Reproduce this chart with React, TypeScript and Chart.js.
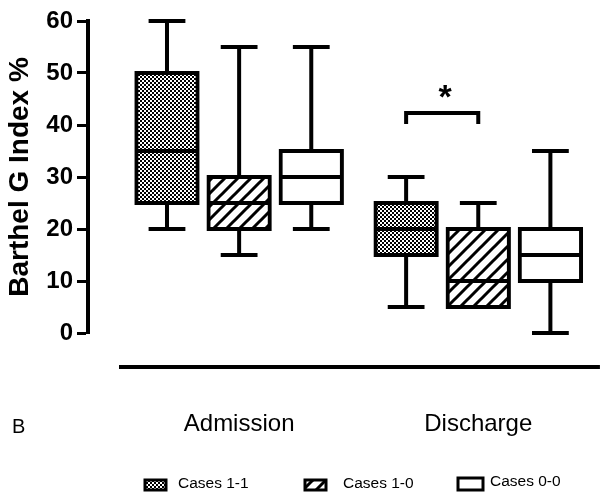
import React, { useEffect, useRef } from 'react';
import { Chart, registerables } from 'chart.js';

Chart.register(...registerables);

// ---- data ----
const categories = ['Admission', 'Discharge'];
const seriesNames = ['Cases 1-1', 'Cases 1-0', 'Cases 0-0'];
// per series, per category [Admission, Discharge]
const whiskerLow = [[20, 5], [15, 5], [20, 0]];
const quartile1 = [[25, 15], [20, 5], [25, 10]];
const medians = [[35, 20], [25, 10], [30, 15]];
const quartile3 = [[50, 25], [30, 20], [35, 20]];
const whiskerHigh = [[60, 30], [55, 25], [55, 35]];
const yTicks = [0, 10, 20, 30, 40, 50, 60];
const sigCategory = 1; // Discharge
const sigSeries = [0, 1];
const sigLevel = [42.3, 40.2];
const sigLabel = '*';
const panelLabel = 'B';
const yTitle = 'Barthel G Index %';

const FONT = '"Liberation Sans", Arial, Helvetica, sans-serif';

function makeDots(): CanvasPattern | string {
  const c = document.createElement('canvas');
  c.width = 4; c.height = 4;
  const g = c.getContext('2d')!;
  g.fillStyle = '#fff'; g.fillRect(0, 0, 4, 4);
  g.fillStyle = '#000';
  g.fillRect(0, 0, 2, 2); g.fillRect(2, 2, 2, 2);
  return g.createPattern(c, 'repeat') || '#888';
}

function makeHatch(): CanvasPattern | string {
  const s = 13;
  const c = document.createElement('canvas');
  c.width = s; c.height = s;
  const g = c.getContext('2d')!;
  g.fillStyle = '#fff'; g.fillRect(0, 0, s, s);
  g.strokeStyle = '#000'; g.lineWidth = 3;
  g.beginPath();
  g.moveTo(-2, s + 2); g.lineTo(s + 2, -2);
  g.moveTo(-2, 2); g.lineTo(2, -2);
  g.moveTo(s - 2, s + 2); g.lineTo(s + 2, s - 2);
  g.stroke();
  return g.createPattern(c, 'repeat') || '#888';
}

const decor = {
  id: 'boxDecor',
  afterDatasetsDraw(chart: any) {
    const ctx = chart.ctx as CanvasRenderingContext2D;
    const y = chart.scales.y;
    ctx.save();
    ctx.strokeStyle = '#000';
    ctx.lineWidth = 4;
    ctx.lineCap = 'butt';
    chart.data.datasets.forEach((_ds: any, i: number) => {
      const meta = chart.getDatasetMeta(i);
      meta.data.forEach((bar: any, j: number) => {
        const x = bar.x;
        const w = bar.width;
        const cap = w * 0.3;
        const pHi = y.getPixelForValue(whiskerHigh[i][j]);
        const pQ3 = y.getPixelForValue(quartile3[i][j]);
        const pQ1 = y.getPixelForValue(quartile1[i][j]);
        const pLo = y.getPixelForValue(whiskerLow[i][j]);
        const pMed = y.getPixelForValue(medians[i][j]);
        ctx.beginPath();
        if (whiskerHigh[i][j] > quartile3[i][j]) {
          ctx.moveTo(x, pQ3 - 2); ctx.lineTo(x, pHi);
          ctx.moveTo(x - cap, pHi); ctx.lineTo(x + cap, pHi);
        }
        if (whiskerLow[i][j] < quartile1[i][j]) {
          ctx.moveTo(x, pQ1 + 2); ctx.lineTo(x, pLo);
          ctx.moveTo(x - cap, pLo); ctx.lineTo(x + cap, pLo);
        }
        ctx.moveTo(x - w / 2, pMed); ctx.lineTo(x + w / 2, pMed);
        ctx.stroke();
      });
    });
    // significance bracket
    const a = chart.getDatasetMeta(sigSeries[0]).data[sigCategory];
    const b = chart.getDatasetMeta(sigSeries[1]).data[sigCategory];
    const yb = y.getPixelForValue(sigLevel[0]);
    const yt = y.getPixelForValue(sigLevel[1]);
    ctx.lineWidth = 4;
    ctx.beginPath();
    ctx.moveTo(a.x, yt); ctx.lineTo(a.x, yb); ctx.lineTo(b.x, yb); ctx.lineTo(b.x, yt);
    ctx.stroke();
    ctx.fillStyle = '#000';
    ctx.font = `bold 34px ${FONT}`;
    ctx.textAlign = 'center';
    ctx.textBaseline = 'alphabetic';
    ctx.fillText(sigLabel, (a.x + b.x) / 2 + 3, yb - 5);
    ctx.restore();
  },
  afterDraw(chart: any) {
    const ctx = chart.ctx as CanvasRenderingContext2D;
    const area = chart.chartArea;
    ctx.save();
    // baseline under the plot
    ctx.strokeStyle = '#000';
    ctx.lineWidth = 4;
    ctx.beginPath();
    ctx.moveTo(area.left + 31, area.bottom + 34);
    ctx.lineTo(area.right - 1, area.bottom + 34);
    ctx.stroke();
    // panel letter
    ctx.fillStyle = '#000';
    ctx.font = `20px ${FONT}`;
    ctx.textAlign = 'left';
    ctx.textBaseline = 'alphabetic';
    ctx.fillText(panelLabel, 12, 433);
    // legend
    const boxes = [
      { x: 145, y: 480, w: 21, h: 10, tx: 178 },
      { x: 305, y: 480, w: 21, h: 10, tx: 343 },
      { x: 458, y: 478, w: 25, h: 12, tx: 490 },
    ];
    ctx.font = `15.5px ${FONT}`;
    ctx.textBaseline = 'middle';
    chart.data.datasets.forEach((ds: any, i: number) => {
      const bx = boxes[i];
      ctx.fillStyle = ds.backgroundColor;
      ctx.fillRect(bx.x, bx.y, bx.w, bx.h);
      ctx.strokeStyle = '#000';
      ctx.lineWidth = 3;
      ctx.strokeRect(bx.x, bx.y, bx.w, bx.h);
      ctx.fillStyle = '#000';
      ctx.fillText(seriesNames[i], bx.tx, i === 2 ? 482 : 484);
    });
    ctx.restore();
  },
};

export default function App() {
  const ref = useRef<HTMLCanvasElement>(null);
  useEffect(() => {
    document.body.style.margin = '0';
    const fills = [makeDots(), makeHatch(), '#ffffff'];
    const datasets = seriesNames.map((name, i) => ({
      label: name,
      data: categories.map((_c, j) => ({ x: j + 1, y: [quartile1[i][j], quartile3[i][j]] })),
      backgroundColor: fills[i],
      borderColor: '#000',
      borderWidth: 4,
      borderSkipped: false,
      inflateAmount: 2,
      categoryPercentage: 0.905,
      barPercentage: 0.85,
    }));
    const chart = new Chart(ref.current!, {
      type: 'bar',
      data: { datasets } as any,
      options: {
        animation: false,
        responsive: true,
        maintainAspectRatio: false,
        layout: { padding: { top: 21, right: 3, bottom: 54, left: 0 } },
        plugins: { legend: { display: false }, tooltip: { enabled: false } },
        scales: {
          x: {
            type: 'linear',
            offset: false,
            min: 0.368,
            max: 2.513,
            afterBuildTicks: (s: any) => { s.ticks = categories.map((_c, j) => ({ value: j + 1 })); },
            afterFit: (s: any) => { s.height = 106; },
            ticks: {
              callback: (v: any) => categories[Math.round(v) - 1] ?? '',
              color: '#000',
              font: { family: FONT, size: 24 },
              padding: 77,
              maxRotation: 0,
            },
            grid: { display: false, drawTicks: false },
            border: { display: false },
          },
          y: {
            type: 'linear',
            min: 0,
            max: 60,
            afterBuildTicks: (s: any) => { s.ticks = yTicks.map((v) => ({ value: v })); },
            afterFit: (s: any) => { s.width = 88; },
            ticks: {
              color: '#000',
              font: { family: FONT, size: 24, weight: 'bold' },
              padding: 4,
            },
            grid: {
              display: true,
              drawOnChartArea: false,
              drawTicks: true,
              tickLength: 11,
              tickWidth: 3,
              tickColor: '#000',
            },
            border: { display: true, color: '#000', width: 4 },
            title: {
              display: true,
              text: yTitle,
              color: '#000',
              font: { family: FONT, size: 28, weight: 'bold' },
              padding: { top: 3, bottom: 0 },
            },
          },
        },
      } as any,
      plugins: [decor],
    });
    return () => chart.destroy();
  }, []);
  return (
    <div style={{ position: 'relative', width: 610, height: 493 }}>
      <canvas ref={ref} />
    </div>
  );
}
